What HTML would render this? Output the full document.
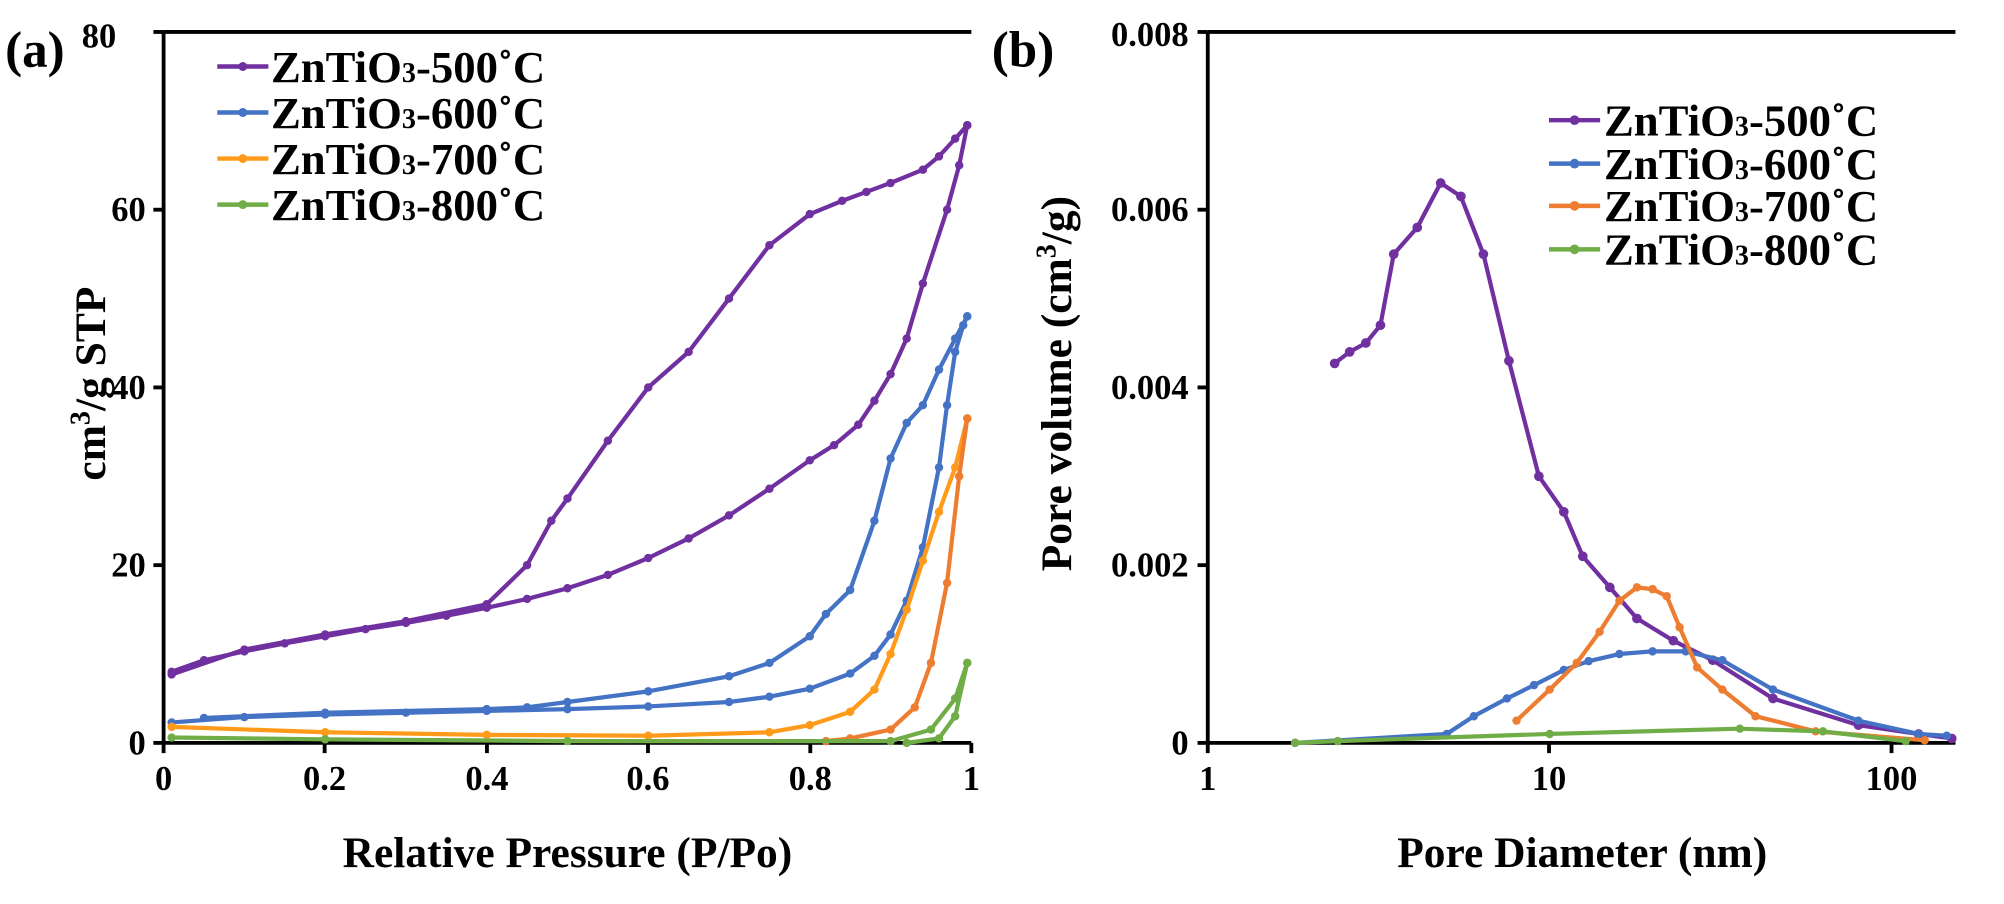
<!DOCTYPE html>
<html><head><meta charset="utf-8"><style>
html,body{margin:0;padding:0;background:#fff}
svg{display:block}
text{font-family:"Liberation Serif",serif;font-weight:bold;fill:#000}
</style></head><body>
<svg id="s" width="2004" height="904" viewBox="0 0 1568 707" preserveAspectRatio="none" xmlns="http://www.w3.org/2000/svg">
<g stroke="#000" stroke-width="3" fill="none">
<path d="M128,25V581H760"/>
<line x1="128" y1="25" x2="760" y2="25"/>
<path d="M945,25V581H1530"/>
<line x1="945" y1="25" x2="1530" y2="25"/>
</g>
<g stroke="#000" stroke-width="3" id="ticks"></g>
<g font-size="27">
<text x="4" y="52" font-size="40">(a)</text>
<text x="64" y="37">80</text>
<text x="114" y="173" text-anchor="end">60</text>
<text x="114" y="312" text-anchor="end">40</text>
<text x="114" y="451" text-anchor="end">20</text>
<text x="114" y="590" text-anchor="end">0</text>
<text x="128" y="618" text-anchor="middle">0</text>
<text x="254" y="618" text-anchor="middle">0.2</text>
<text x="381" y="618" text-anchor="middle">0.4</text>
<text x="507" y="618" text-anchor="middle">0.6</text>
<text x="634" y="618" text-anchor="middle">0.8</text>
<text x="760" y="618" text-anchor="middle">1</text>
<text x="444" y="678" text-anchor="middle" font-size="34">Relative Pressure (P/Po)</text>
<text transform="translate(82,300) rotate(-90)" text-anchor="middle" font-size="34">cm<tspan font-size="22" dy="-12">3</tspan><tspan dy="12">/g STP</tspan></text>

<text x="776" y="52" font-size="40">(b)</text>
<text x="930" y="36" text-anchor="end">0.008</text>
<text x="930" y="173" text-anchor="end">0.006</text>
<text x="930" y="312" text-anchor="end">0.004</text>
<text x="930" y="451" text-anchor="end">0.002</text>
<text x="930" y="590" text-anchor="end">0</text>
<text x="945" y="618" text-anchor="middle">1</text>
<text x="1212" y="618" text-anchor="middle">10</text>
<text x="1480" y="618" text-anchor="middle">100</text>
<text transform="translate(838,300) rotate(-90)" text-anchor="middle" font-size="34">Pore volume (cm<tspan font-size="22" dy="-12">3</tspan><tspan dy="12">/g)</tspan></text>
<text x="1238" y="678" text-anchor="middle" font-size="34">Pore Diameter (nm)</text>
</g>
<g id="plots"></g>
<g font-size="35">
<text x="212" y="64">ZnTiO<tspan font-size="22">3</tspan>-500˚C</text>
<text x="212" y="100">ZnTiO<tspan font-size="22">3</tspan>-600˚C</text>
<text x="212" y="136">ZnTiO<tspan font-size="22">3</tspan>-700˚C</text>
<text x="212" y="172">ZnTiO<tspan font-size="22">3</tspan>-800˚C</text>
<text x="1255" y="106">ZnTiO<tspan font-size="22">3</tspan>-500˚C</text>
<text x="1255" y="140">ZnTiO<tspan font-size="22">3</tspan>-600˚C</text>
<text x="1255" y="173">ZnTiO<tspan font-size="22">3</tspan>-700˚C</text>
<text x="1255" y="207">ZnTiO<tspan font-size="22">3</tspan>-800˚C</text>
</g>
</svg>
<script>
var NS="http://www.w3.org/2000/svg",P=document.getElementById("plots"),T=document.getElementById("ticks");
function el(n,a,p){var e=document.createElementNS(NS,n);for(var k in a)e.setAttribute(k,a[k]);(p||P).appendChild(e);return e;}
[25,164,303,442,581].forEach(function(y){el("line",{x1:120,x2:128,y1:y,y2:y},T);el("line",{x1:937,x2:945,y1:y,y2:y},T);});
[128,254,381,507,634,760].forEach(function(x){el("line",{x1:x,x2:x,y1:581,y2:589},T);});
[945,1212,1480].forEach(function(x){el("line",{x1:x,x2:x,y1:581,y2:589},T);});
var C={p:"#7030a0",b:"#4472c4",o:"#ed7d31",oa:"#ff9a1a",g:"#70ad47"};
function line(pts,fx,fy,col,r){var d=pts.map(function(q,i){return (i?"L":"M")+fx(q[0]).toFixed(1)+","+fy(q[1]).toFixed(1);}).join("");
el("path",{d:d,fill:"none",stroke:col,"stroke-width":3.3,"stroke-linejoin":"round"});
pts.forEach(function(q){el("circle",{cx:fx(q[0]),cy:fy(q[1]),r:r||3.3,fill:col});});}
var ax=function(p){return 128+632*p},ay=function(v){return 581-6.95*v};
var bx=function(d){return 945+267.5*Math.log10(d)},by=function(v){return 581-69500*v};
line([[0.01,8],[0.05,9.3],[0.1,10.3],[0.15,11.2],[0.2,12],[0.25,12.8],[0.3,13.5],[0.35,14.3],[0.4,15.2],[0.45,16.2],[0.5,17.4],[0.55,18.9],[0.6,20.8],[0.65,23],[0.7,25.6],[0.75,28.6],[0.8,31.8],[0.83,33.5],[0.86,35.8],[0.88,38.5],[0.9,41.5],[0.92,45.5],[0.94,51.7],[0.97,60],[0.985,65],[0.995,69.5]],ax,ay,C.p);
line([[0.995,69.5],[0.98,68],[0.96,66],[0.94,64.5],[0.9,63],[0.87,62],[0.84,61],[0.8,59.5],[0.75,56],[0.7,50],[0.65,44],[0.6,40],[0.55,34],[0.5,27.5],[0.48,25],[0.45,20],[0.4,15.6],[0.3,13.7],[0.2,12.2],[0.1,10.5],[0.01,7.7]],ax,ay,C.p);
line([[0.01,2.3],[0.1,2.9],[0.2,3.2],[0.3,3.4],[0.4,3.6],[0.5,3.8],[0.6,4.1],[0.7,4.6],[0.75,5.2],[0.8,6.1],[0.85,7.8],[0.88,9.8],[0.9,12.2],[0.92,16],[0.94,22],[0.96,31],[0.97,38],[0.98,44],[0.99,47],[0.995,48]],ax,ay,C.b);
line([[0.995,48],[0.98,45.5],[0.96,42],[0.94,38],[0.92,36],[0.9,32],[0.88,25],[0.85,17.2],[0.82,14.5],[0.8,12],[0.75,9],[0.7,7.5],[0.6,5.8],[0.5,4.6],[0.45,4],[0.4,3.8],[0.2,3.4],[0.05,2.8]],ax,ay,C.b);
line([[0.01,1.8],[0.2,1.2],[0.4,0.9],[0.6,0.8],[0.75,1.2],[0.8,2],[0.85,3.5],[0.88,6],[0.9,10],[0.92,15],[0.94,20.5],[0.96,26],[0.98,31],[0.995,36.5]],ax,ay,C.oa);
line([[0.995,36.5],[0.985,30],[0.97,18],[0.95,9],[0.93,4],[0.9,1.5],[0.85,0.5],[0.82,0.2]],ax,ay,C.o);
line([[0.01,0.6],[0.2,0.4],[0.5,0.2],[0.9,0.2],[0.95,1.5],[0.98,5],[0.995,9]],ax,ay,C.g);
line([[0.995,9],[0.98,3],[0.96,0.5],[0.92,0]],ax,ay,C.g);
line([[2.35,0.00427],[2.6,0.0044],[2.9,0.0045],[3.2,0.0047],[3.5,0.0055],[4.1,0.0058],[4.8,0.0063],[5.5,0.00615],[6.4,0.0055],[7.6,0.0043],[9.3,0.003],[11,0.0026],[12.5,0.0021],[15,0.00175],[18,0.0014],[23,0.00115],[30,0.00093],[45,0.0005],[80,0.0002],[120,0.0001],[150,0.00005]],bx,by,C.p,3.8);
line([[1.8,0],[5,0.0001],[6,0.0003],[7.5,0.0005],[9,0.00065],[11,0.00082],[13,0.00092],[16,0.001],[20,0.00103],[25,0.00103],[32,0.00093],[45,0.0006],[80,0.00025],[120,0.0001],[145,0.00008]],bx,by,C.b);
line([[8,0.00025],[10,0.0006],[12,0.0009],[14,0.00125],[16,0.0016],[18,0.00175],[20,0.00173],[22,0.00165],[24,0.0013],[27,0.00085],[32,0.0006],[40,0.0003],[60,0.00013],[125,0.00003]],bx,by,C.o);
line([[1.8,0],[2.4,0.00002],[10,0.0001],[36,0.00016],[63,0.00013],[110,0.00002]],bx,by,C.g);
[[C.p,52],[C.b,88],[C.oa,124],[C.g,160]].forEach(function(q){el("line",{x1:170,x2:210,y1:q[1],y2:q[1],stroke:q[0],"stroke-width":3.5});el("circle",{cx:190,cy:q[1],r:3.5,fill:q[0]});});
[[C.p,94],[C.b,128],[C.o,161],[C.g,195]].forEach(function(q){el("line",{x1:1212,x2:1252,y1:q[1],y2:q[1],stroke:q[0],"stroke-width":3.5});el("circle",{cx:1232,cy:q[1],r:3.8,fill:q[0]});});
</script>
</body></html>
